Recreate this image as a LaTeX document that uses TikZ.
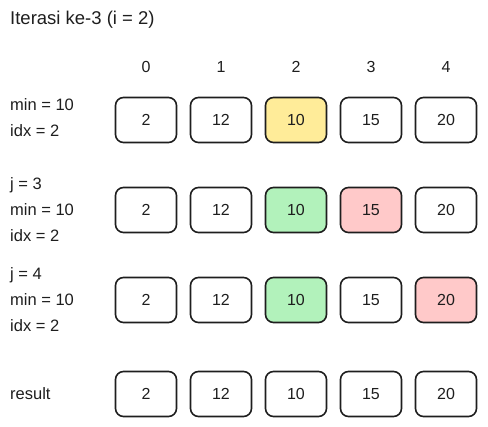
\documentclass[tikz,border=0pt]{standalone}
\usepackage{fontspec}
\setmainfont{Liberation Sans}
\definecolor{ink}{HTML}{1E1E1E}
\definecolor{minfill}{HTML}{FFEC99}
\definecolor{keepfill}{HTML}{B2F2BB}
\definecolor{cmpfill}{HTML}{FFC9C9}
\tikzset{ cell/.style = { rectangle % array cell
        , draw = ink
        , line width = 1.6pt
        , rounded corners = 8pt
        , minimum width = 61pt
        , minimum height = 45pt
        , font = \fontsize{16}{18}\selectfont
        }
        , idx/.style = { rectangle % index above column
        , font = \fontsize{16}{18}\selectfont
        }
        , info/.style = { rectangle % variables at left
        , anchor = west
        , inner sep = 0pt
        , align = left
        , font = \fontsize{16.5}{26}\selectfont
        }
        }

\begin{document}
\begin{tikzpicture}[x=1pt, y=-1pt, text=ink]
        \useasboundingbox (0,0) rectangle (488,427);

        \node [info](title) at (10,20) {\fontsize{18.5}{22}\selectfont Iterasi ke-3 (i = 2)};

        \node [idx](i0) at (146,67) {0};
        \node [idx](i1) at (221,67) {1};
        \node [idx](i2) at (296,67) {2};
        \node [idx](i3) at (371,67) {3};
        \node [idx](i4) at (446,67) {4};

        % row 1
        \node [info](v1) at (10,118) {min = 10\\idx = 2};
        \node [cell](a0) at (146,120) {2};
        \node [cell](a1) at (221,120) {12};
        \node [cell,fill=minfill](a2) at (296,120) {10};
        \node [cell](a3) at (371,120) {15};
        \node [cell](a4) at (446,120) {20};

        % row 2
        \node [info](v2) at (10,210) {j = 3\\min = 10\\idx = 2};
        \node [cell](b0) at (146,210) {2};
        \node [cell](b1) at (221,210) {12};
        \node [cell,fill=keepfill](b2) at (296,210) {10};
        \node [cell,fill=cmpfill](b3) at (371,210) {15};
        \node [cell](b4) at (446,210) {20};

        % row 3
        \node [info](v3) at (10,300) {j = 4\\min = 10\\idx = 2};
        \node [cell](c0) at (146,300) {2};
        \node [cell](c1) at (221,300) {12};
        \node [cell,fill=keepfill](c2) at (296,300) {10};
        \node [cell](c3) at (371,300) {15};
        \node [cell,fill=cmpfill](c4) at (446,300) {20};

        % result
        \node [info](v4) at (10,394) {result};
        \node [cell](d0) at (146,394) {2};
        \node [cell](d1) at (221,394) {12};
        \node [cell](d2) at (296,394) {10};
        \node [cell](d3) at (371,394) {15};
        \node [cell](d4) at (446,394) {20};
\end{tikzpicture}
\end{document}
